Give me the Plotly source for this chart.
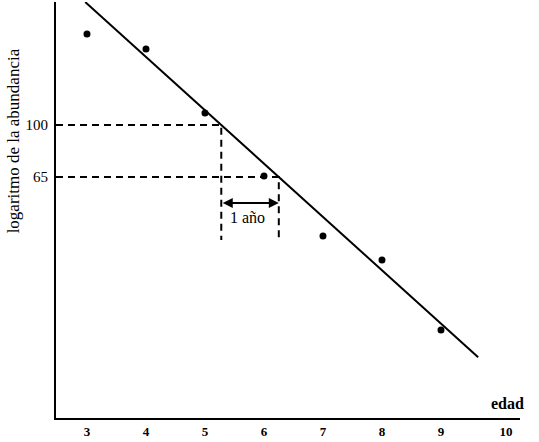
import numpy as np
import plotly.graph_objects as go

# Data
edad = [3, 4, 5, 6, 7, 8, 9]
abundancia = [212.6, 187.7, 110.4, 65.5, 39.9, 32.7, 18.3]
recta_x = [2.97, 9.63]
recta_y = [277.0, 14.6]
ref_abund = [100, 65]
ref_edad = [5.276, 6.251]
ref_base = 38.6
flecha_y = 52.4
texto_y = 46.3
x_ticks = [3, 4, 5, 6, 7, 8, 9, 10.1]
x_ticktext = ["3", "4", "5", "6", "7", "8", "9", "10"]

L = np.log10
fig = go.Figure()

# reference dashed lines
dash = "7px,5px"
for a, e in zip(ref_abund, ref_edad):
    fig.add_trace(go.Scatter(x=[2.475, e, e], y=[L(a), L(a), L(ref_base)], mode="lines",
                             line=dict(color="black", width=2, dash=dash), hoverinfo="skip"))

fig.add_trace(go.Scatter(x=recta_x, y=L(np.array(recta_y)), mode="lines",
                         line=dict(color="black", width=2)))
fig.add_trace(go.Scatter(x=edad, y=L(np.array(abundancia)), mode="markers",
                         marker=dict(color="black", size=7)))

fig.add_annotation(x=ref_edad[1], y=L(flecha_y), ax=ref_edad[0], ay=L(flecha_y),
                   xref="x", yref="y", axref="x", ayref="y", text="", showarrow=True,
                   arrowhead=2, arrowside="end+start", arrowsize=1, arrowwidth=2, arrowcolor="black")
fig.add_annotation(x=(ref_edad[0] + ref_edad[1]) / 2 - 0.05, y=L(texto_y), text="1 año", showarrow=False,
                   xanchor="center", yanchor="middle",
                   font=dict(family="Liberation Serif", size=16, color="black"))
fig.add_annotation(x=1, y=0, xref="paper", yref="paper", xanchor="right", yanchor="bottom",
                   yshift=4, xshift=6, text="<b>edad</b>", showarrow=False,
                   font=dict(family="Liberation Serif", size=16, color="black"))
fig.add_annotation(x=0, y=0.665, xref="paper", yref="paper", xshift=-43, textangle=-90,
                   xanchor="center", yanchor="middle",
                   text="logaritmo de la abundancia", showarrow=False,
                   font=dict(family="Liberation Serif", size=17, color="black"))

fig.update_layout(
    width=539, height=442, autosize=False, showlegend=False,
    margin=dict(l=56, r=19, t=2, b=24),
    plot_bgcolor="white", paper_bgcolor="white",
    xaxis=dict(range=[2.475, 10.339], showgrid=False, zeroline=False, showline=True,
               linecolor="black", linewidth=2, tickvals=x_ticks, ticktext=x_ticktext,
               ticks="", tickfont=dict(family="Liberation Serif", size=13, color="black", weight="bold"),
               fixedrange=True),
    yaxis=dict(range=[0.9457, 2.4426], showgrid=False, zeroline=False, showline=True,
               linecolor="black", linewidth=2, tickvals=list(L(np.array(ref_abund))),
               ticktext=[str(v) for v in ref_abund], ticks="outside", ticklen=3, tickcolor="white",
               tickfont=dict(family="Liberation Serif", size=15, color="black"), fixedrange=True),
)
fig.write_html("out.html", post_script="document.body.style.margin='0';",
               config={"displayModeBar": False})
